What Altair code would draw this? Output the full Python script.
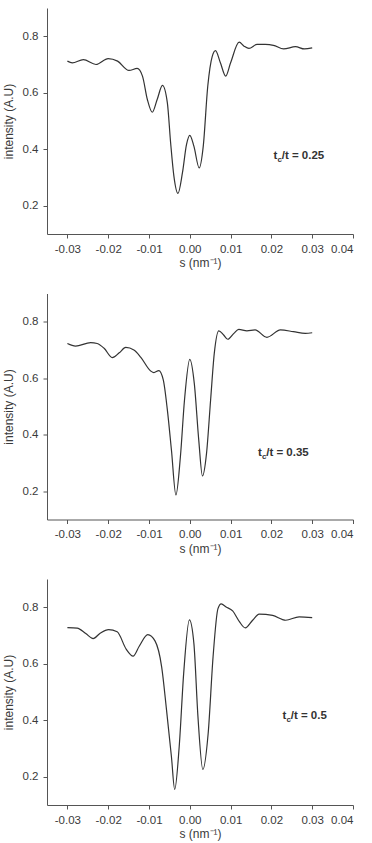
import altair as alt
import pandas as pd

# Panel 1: t_c/t = 0.25
s1 = [-0.030, -0.0288, -0.0261, -0.0230, -0.0200, -0.0177, -0.0149, -0.0129, -0.0116, -0.0104,
      -0.0092, -0.0080, -0.0067, -0.0055, -0.0047, -0.0039, -0.0029, -0.0018, -0.0008, 0.0000,
      0.0010, 0.0023, 0.0033, 0.0044, 0.0055, 0.0063, 0.0075, 0.0088, 0.0100, 0.0121,
      0.0133, 0.0145, 0.0165, 0.0185, 0.0205, 0.0230, 0.0259, 0.0281, 0.0300]
i1 = [0.712, 0.706, 0.717, 0.700, 0.721, 0.712, 0.679, 0.686, 0.659, 0.576,
      0.531, 0.576, 0.626, 0.564, 0.423, 0.305, 0.244, 0.317, 0.417, 0.449,
      0.411, 0.334, 0.411, 0.623, 0.729, 0.749, 0.706, 0.659, 0.706, 0.779,
      0.765, 0.757, 0.771, 0.771, 0.768, 0.755, 0.763, 0.755, 0.759]

# Panel 2: t_c/t = 0.35
s2 = [-0.030, -0.0280, -0.0243, -0.0227, -0.0210, -0.0190, -0.0173, -0.0157, -0.0137, -0.0120,
      -0.0096, -0.0088, -0.0076, -0.0065, -0.0055, -0.0045, -0.0034, -0.0023, -0.0013, 0.0000,
      0.0011, 0.0022, 0.0031, 0.0041, 0.0051, 0.0060, 0.0071, 0.0083, 0.0093, 0.0108,
      0.0120, 0.0140, 0.0160, 0.0189, 0.0222, 0.0254, 0.0283, 0.0300]
i2 = [0.723, 0.714, 0.726, 0.723, 0.706, 0.673, 0.690, 0.709, 0.700, 0.674,
      0.626, 0.620, 0.627, 0.594, 0.488, 0.346, 0.187, 0.323, 0.523, 0.667,
      0.582, 0.380, 0.254, 0.334, 0.523, 0.688, 0.768, 0.753, 0.738, 0.759,
      0.773, 0.768, 0.771, 0.745, 0.771, 0.765, 0.759, 0.761]

# Panel 3: t_c/t = 0.5
s3 = [-0.030, -0.0276, -0.0255, -0.0237, -0.0219, -0.0199, -0.0178, -0.0156, -0.0139, -0.0124,
      -0.0103, -0.0085, -0.0069, -0.0057, -0.0045, -0.0037, -0.0026, -0.0015, -0.0001, 0.0010,
      0.0020, 0.0032, 0.0045, 0.0057, 0.0069, 0.0077, 0.0089, 0.0105, 0.0122, 0.0136,
      0.0154, 0.0170, 0.0203, 0.0235, 0.0268, 0.0300]
i3 = [0.728, 0.726, 0.707, 0.689, 0.709, 0.721, 0.713, 0.652, 0.627, 0.662,
      0.703, 0.680, 0.589, 0.436, 0.271, 0.155, 0.306, 0.566, 0.755, 0.672,
      0.412, 0.226, 0.353, 0.624, 0.795, 0.812, 0.801, 0.787, 0.748, 0.727,
      0.754, 0.776, 0.771, 0.754, 0.766, 0.763]

ratios = ["0.25", "0.35", "0.5"]
label_x = [0.0205, 0.0167, 0.0227]
label_y = [0.376, 0.334, 0.415]

x_ticks = [-0.03, -0.025, -0.02, -0.015, -0.01, -0.005, 0.0, 0.005, 0.01, 0.015, 0.02, 0.025, 0.03, 0.035, 0.04]
y_ticks = [0.2, 0.3, 0.4, 0.5, 0.6, 0.7, 0.8]

FONT = "Liberation Sans"
GREY = "#3a3a3a"
AXC = "#555555"

x_axis = alt.Axis(
    values=x_ticks,
    labelExpr="abs(datum.value*100 - round(datum.value*100)) < 0.01 ? replace(format(datum.value, '.2f'), '\u2212', '-') : ''",
    tickSize={"condition": {"test": "abs(datum.value*100 - round(datum.value*100)) > 0.1", "value": 2.5}, "value": 4},
    title="s (nm\u207b\u00b9)",
    labelPadding=5,
    titlePadding=3,
)
y_axis = alt.Axis(
    values=y_ticks,
    labelExpr="abs(datum.value*5 - round(datum.value*5)) < 0.01 ? format(datum.value, '.1f') : ''",
    tickSize={"condition": {"test": "abs(datum.value*5 - round(datum.value*5)) > 0.1", "value": 2.5}, "value": 4},
    title="intensity (A.U)",
    labelPadding=5,
    titlePadding=7,
)

def panel(s, i, ratio, lx, ly):
    df = pd.DataFrame({"s": s, "i": i})
    line = alt.Chart(df).mark_line(
        interpolate="monotone", color="#333333", strokeWidth=1.2
    ).encode(
        x=alt.X("s:Q", scale=alt.Scale(domain=[-0.035, 0.04], nice=False, zero=False), axis=x_axis),
        y=alt.Y("i:Q", scale=alt.Scale(domain=[0.1, 0.9], nice=False, zero=False), axis=y_axis),
    )
    common = dict(font=FONT, fontWeight="bold", color="#333333", align="left", baseline="middle")
    t1 = alt.Chart().mark_text(text="t", fontSize=11.5, **common).encode(x=alt.datum(lx), y=alt.datum(ly))
    t2 = alt.Chart().mark_text(text="c", fontSize=8, dx=4, dy=4, **common).encode(x=alt.datum(lx), y=alt.datum(ly))
    t3 = alt.Chart().mark_text(text="/t = " + ratio, fontSize=11.5, dx=8.3, **common).encode(x=alt.datum(lx), y=alt.datum(ly))
    return alt.layer(line, t1, t2, t3).properties(width=306, height=226)

chart = alt.vconcat(
    panel(s1, i1, ratios[0], label_x[0], label_y[0]),
    panel(s2, i2, ratios[1], label_x[1], label_y[1]),
    panel(s3, i3, ratios[2], label_x[2], label_y[2]),
    spacing=59.5,
    bounds="flush",
).properties(
    padding={"left": 2, "top": 8, "right": 5, "bottom": 5},
    background="white",
).configure_view(
    stroke=None
).configure_axis(
    grid=False,
    domainColor=AXC,
    tickColor=AXC,
    labelColor=GREY,
    titleColor=GREY,
    labelFont=FONT,
    titleFont=FONT,
    labelFontSize=11.5,
    titleFontSize=12,
    titleFontWeight="normal",
    domainWidth=1,
    tickWidth=1,
)

chart.save("out.html", embed_options={"renderer": "svg", "actions": False})
